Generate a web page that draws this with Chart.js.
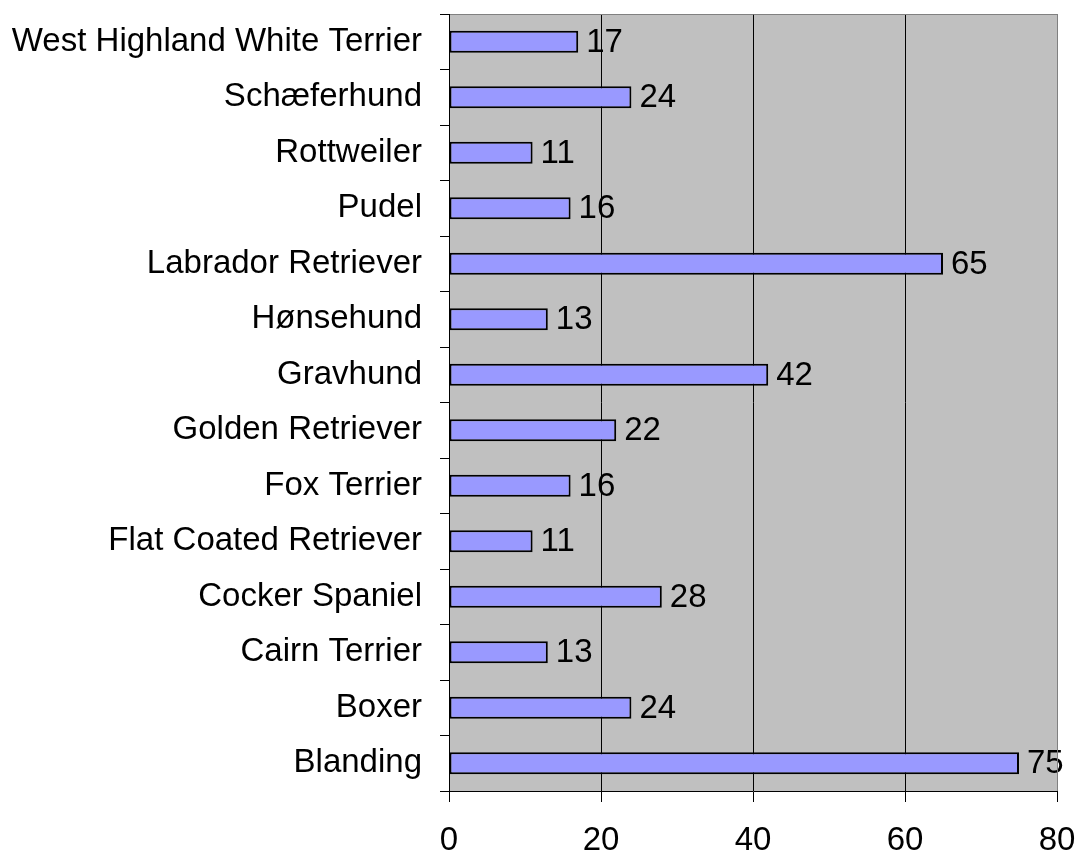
<!DOCTYPE html>
<html>
<head>
<meta charset="utf-8">
<script src="https://cdn.jsdelivr.net/npm/chart.js@4/dist/chart.umd.min.js"></script>
<style>
html,body{margin:0;padding:0;background:#fff;}
#wrap{width:1077px;height:852px;}
</style>
</head>
<body>
<div id="wrap"><canvas id="c" width="1077" height="852"></canvas></div>
<script>
const categories = ['West Highland White Terrier','Schæferhund','Rottweiler','Pudel','Labrador Retriever','Hønsehund','Gravhund','Golden Retriever','Fox Terrier','Flat Coated Retriever','Cocker Spaniel','Cairn Terrier','Boxer','Blanding'];
const counts = [17,24,11,16,65,13,42,22,16,11,28,13,24,75];
const xTicks = [0,20,40,60,80];

const FONT = 'Liberation Sans, Arial, sans-serif';
const FSIZE = 33;

const plotBg = {
  id: 'plotBg',
  beforeDraw(chart) {
    const {ctx, chartArea: a} = chart;
    ctx.save();
    ctx.fillStyle = '#C0C0C0';
    ctx.fillRect(a.left, a.top, a.right - a.left, a.bottom - a.top);
    ctx.restore();
  },
  afterDraw(chart) {
    const {ctx, chartArea: a} = chart;
    ctx.save();
    ctx.strokeStyle = '#808080';
    ctx.lineWidth = 1;
    ctx.beginPath();
    ctx.moveTo(a.left + 1, a.top + 0.5);
    ctx.lineTo(a.right + 0.5, a.top + 0.5);
    ctx.lineTo(a.right + 0.5, a.bottom);
    ctx.stroke();
    ctx.restore();
  }
};

const valueLabels = {
  id: 'valueLabels',
  afterDatasetsDraw(chart) {
    const {ctx} = chart;
    const meta = chart.getDatasetMeta(0);
    ctx.save();
    ctx.font = FSIZE + 'px ' + FONT;
    ctx.fillStyle = '#000';
    ctx.textAlign = 'left';
    ctx.textBaseline = 'middle';
    meta.data.forEach((bar, i) => {
      ctx.fillText(String(counts[i]), bar.x + 8, bar.y + 1);
    });
    ctx.restore();
  }
};

new Chart(document.getElementById('c'), {
  type: 'bar',
  data: {
    labels: categories,
    datasets: [{
      data: counts,
      backgroundColor: '#9999FF',
      borderColor: '#000000',
      borderWidth: 2,
      borderSkipped: false,
      barPercentage: 0.4,
      categoryPercentage: 1.0
    }]
  },
  options: {
    indexAxis: 'y',
    responsive: false,
    animation: false,
    devicePixelRatio: 1,
    layout: { padding: { top: 14, right: 20, left: 0, bottom: 0 } },
    plugins: { legend: { display: false }, tooltip: { enabled: false } },
    scales: {
      x: {
        min: 0, max: 80,
        afterBuildTicks(scale) { scale.ticks = xTicks.map(v => ({value: v})); },
        afterFit(scale) {
          scale.height = 61;
          scale.paddingLeft = 0; scale.paddingRight = 0;
          scale.paddingTop = 0; scale.paddingBottom = 0;
        },
        border: { display: true, color: '#000', width: 1 },
        grid: {
          color: ctx => (ctx.tick && ctx.tick.value === 80) ? '#808080' : '#000',
          tickColor: '#000',
          lineWidth: 1,
          tickLength: 11,
          drawOnChartArea: true
        },
        ticks: {
          color: '#000',
          font: { family: FONT, size: FSIZE },
          padding: 19,
          maxRotation: 0
        }
      },
      y: {
        afterFit(scale) {
          scale.width = 449;
          scale.paddingLeft = 0; scale.paddingRight = 0;
          scale.paddingTop = 0; scale.paddingBottom = 0;
        },
        border: { display: true, color: '#000', width: 1 },
        grid: {
          drawOnChartArea: false,
          color: '#000',
          tickColor: '#000',
          tickLength: 9,
          offset: true
        },
        ticks: {
          color: '#000',
          font: { family: FONT, size: FSIZE },
          padding: 18,
          autoSkip: false
        }
      }
    }
  },
  plugins: [plotBg, valueLabels]
});
</script>
</body>
</html>
